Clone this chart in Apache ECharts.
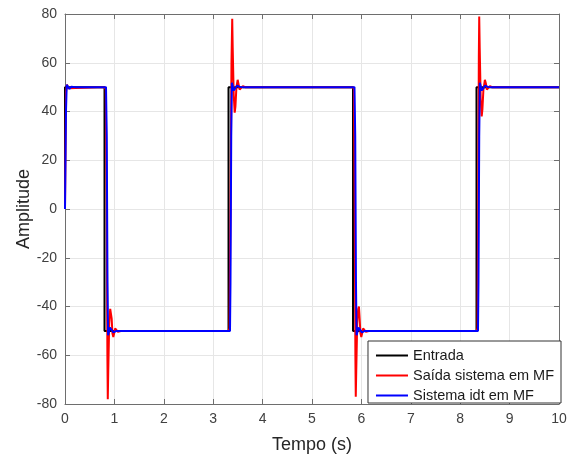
<!DOCTYPE html>
<html>
<head>
<meta charset="utf-8">
<script src="https://cdn.jsdelivr.net/npm/echarts@6/dist/echarts.min.js"></script>
<style>html,body{margin:0;padding:0;background:#fff;}#c{width:572px;height:457px;}</style>
</head>
<body>
<div id="c"></div>
<script>
// ---- Data ----
const xTicks = [0,1,2,3,4,5,6,7,8,9,10];
const yTicks = [-80,-60,-40,-20,0,20,40,60,80];

const entradaTempo   = [0, 0, 0.80, 0.80, 3.31, 3.31, 5.83, 5.83, 8.33, 8.33, 10];
const entradaValores = [0, 50, 50, -50, -50, 50, 50, -50, -50, 50, 50];

const saidaTempo = [
  0, 0.02, 0.04, 0.07, 0.10,
  0.80, 0.825, 0.845, 0.858, 0.866, 0.876, 0.895, 0.915, 0.93, 0.945, 0.96, 0.978, 0.995, 1.015, 1.04, 1.07, 1.10, 1.15,
  3.31, 3.33, 3.35, 3.37, 3.385, 3.395, 3.415, 3.435, 3.45, 3.47, 3.495, 3.515, 3.535, 3.56, 3.60, 3.65,
  5.83, 5.85, 5.865, 5.878, 5.886, 5.896, 5.915, 5.935, 5.95, 5.965, 5.98, 5.998, 6.015, 6.035, 6.06, 6.09, 6.12, 6.17,
  8.33, 8.35, 8.365, 8.377, 8.385, 8.395, 8.415, 8.435, 8.45, 8.47, 8.50, 8.52, 8.54, 8.565, 8.60, 8.65,
  10
];
const saidaValores = [
  0, 48, 51, 49.5, 50,
  50, 49, 0, -60, -78, -66, -47, -41, -40.5, -45, -51, -52.5, -51, -49, -48.8, -50.4, -50.5, -50,
  -50, -49, 0, 60, 78, 66, 47, 39.5, 42, 50, 53, 51, 49, 48.8, 50.4, 50,
  50, 49, 0, -60, -77, -66, -47, -41, -40, -45, -51, -52.5, -51, -49, -48.8, -50.4, -50.5, -50,
  -50, -49, 0, 62, 79, 66, 45, 38, 41, 49, 53, 51.5, 49, 48.8, 50.4, 50,
  50
];

const idtTempo = [
  0, 0.02, 0.035, 0.06, 0.09, 0.13, 0.20,
  0.83, 0.845, 0.86, 0.872, 0.89, 0.91, 0.94, 0.98, 1.03, 1.10,
  3.34, 3.35, 3.365, 3.378, 3.395, 3.415, 3.445, 3.485, 3.535, 3.60,
  5.86, 5.875, 5.89, 5.902, 5.92, 5.94, 5.97, 6.01, 6.06, 6.13,
  8.36, 8.37, 8.385, 8.398, 8.415, 8.435, 8.465, 8.505, 8.555, 8.62,
  10
];
const idtValores = [
  0, 40, 51, 50.5, 49.3, 50.2, 50,
  50, 30, -30, -51.8, -50.5, -48.6, -49.2, -50.6, -50.1, -50,
  -50, -30, 30, 51.8, 50.5, 48.6, 49.2, 50.6, 50.1, 50,
  50, 30, -30, -51.8, -50.5, -48.6, -49.2, -50.6, -50.1, -50,
  -50, -30, 30, 51.8, 50.5, 48.6, 49.2, 50.6, 50.1, 50,
  50
];

const seriesNames = ['Entrada', 'Saída sistema em MF', 'Sistema idt em MF'];
const seriesColors = ['#000000', '#ff0000', '#0000ff'];

// ---- Chart ----
const zip = (t, v) => t.map((x, i) => [x, v[i]]);
const FONT = 'Liberation Sans, Arial, Helvetica, sans-serif';
const axisColor = '#6e6e6e';
const labelColor = '#404040';

const chart = echarts.init(document.getElementById('c'), null, {renderer: 'canvas'});

const baseX = {
  type: 'value', min: 0, max: 10, interval: 1,
  axisLine: {show: true, onZero: false, lineStyle: {color: axisColor, width: 1}},
  axisTick: {show: true, inside: true, length: 5, lineStyle: {color: axisColor}},
  splitLine: {show: true, lineStyle: {color: '#e6e6e6', width: 1}},
};
const baseY = {
  type: 'value', min: -80, max: 80, interval: 20,
  axisLine: {show: true, onZero: false, lineStyle: {color: axisColor, width: 1}},
  axisTick: {show: true, inside: true, length: 5, lineStyle: {color: axisColor}},
  splitLine: {show: true, lineStyle: {color: '#e6e6e6', width: 1}},
};

chart.setOption({
  animation: false,
  backgroundColor: '#ffffff',
  grid: {left: 65, right: 13, top: 14, bottom: 53, containLabel: false, outerBoundsMode: 'none'},
  xAxis: [
    Object.assign({}, baseX, {
      position: 'bottom',
      name: 'Tempo (s)', nameLocation: 'middle', nameGap: 32, nameMoveOverlap: false,
      nameTextStyle: {fontFamily: FONT, fontSize: 18, color: '#262626'},
      axisLabel: {fontFamily: FONT, fontSize: 14, color: labelColor, margin: 8,
        formatter: v => xTicks.includes(v) ? String(v) : ''}
    }),
    Object.assign({}, baseX, {position: 'top', axisLabel: {show: false}, splitLine: {show: false}})
  ],
  yAxis: [
    Object.assign({}, baseY, {
      position: 'left',
      name: 'Amplitude', nameLocation: 'middle', nameGap: 32, nameRotate: 90, nameMoveOverlap: false,
      nameTextStyle: {fontFamily: FONT, fontSize: 18, color: '#262626'},
      axisLabel: {fontFamily: FONT, fontSize: 14, color: labelColor, margin: 8,
        formatter: v => yTicks.includes(v) ? String(v) : ''}
    }),
    Object.assign({}, baseY, {position: 'right', axisLabel: {show: false}, splitLine: {show: false}})
  ],
  legend: {
    orient: 'vertical',
    right: 11, bottom: 54,
    backgroundColor: '#ffffff',
    borderColor: '#333333', borderWidth: 1,
    padding: [7, 7, 0, 7],
    itemGap: 5, itemWidth: 32, itemHeight: 14,
    itemStyle: {opacity: 0},
    textStyle: {fontFamily: FONT, fontSize: 14.5, color: '#1a1a1a'},
    data: seriesNames
  },
  series: [
    {name: seriesNames[0], type: 'line', data: zip(entradaTempo, entradaValores),
     showSymbol: false, symbol: 'none', color: seriesColors[0],
     lineStyle: {color: seriesColors[0], width: 2}, z: 2},
    {name: seriesNames[1], type: 'line', data: zip(saidaTempo, saidaValores),
     showSymbol: false, symbol: 'none', color: seriesColors[1],
     lineStyle: {color: seriesColors[1], width: 2}, z: 3},
    {name: seriesNames[2], type: 'line', data: zip(idtTempo, idtValores),
     showSymbol: false, symbol: 'none', color: seriesColors[2],
     lineStyle: {color: seriesColors[2], width: 2}, z: 4}
  ]
});
</script>
</body>
</html>
